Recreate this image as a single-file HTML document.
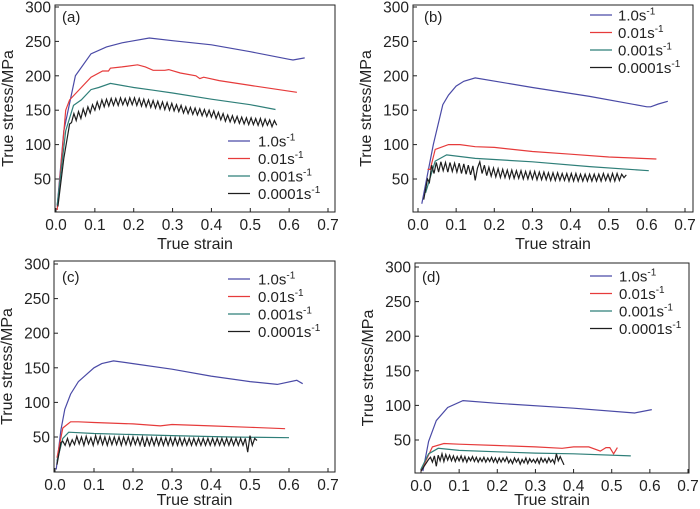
<!DOCTYPE html>
<html><head><meta charset="utf-8">
<style>
html,body{margin:0;padding:0;background:#fff;}
svg{display:block;font-family:"Liberation Sans",Arial,sans-serif;}
</style></head>
<body>
<svg id="chart" width="700" height="509" viewBox="0 0 700 509" xmlns="http://www.w3.org/2000/svg"></svg>
<script>
// ---- data ----
const rateLabels = ["1.0s", "0.01s", "0.001s", "0.0001s"];
const xTicks = [0.0, 0.1, 0.2, 0.3, 0.4, 0.5, 0.6, 0.7];
const yTicks = [50, 100, 150, 200, 250, 300];
const panelLabels = ["(a)", "(b)", "(c)", "(d)"];

const aBlue = [[0.003,10],[0.02,120],[0.05,200],[0.09,232],[0.13,242],[0.17,248],[0.24,255],[0.3,251],[0.4,245],[0.5,235],[0.6,224],[0.61,223],[0.64,226]];
const aRed = [[0.003,5],[0.025,150],[0.035,165],[0.06,180],[0.09,198],[0.12,207],[0.135,207],[0.14,211],[0.17,213],[0.21,216],[0.23,213],[0.25,208],[0.28,208],[0.29,209],[0.32,204],[0.36,200],[0.37,196],[0.38,198],[0.42,193],[0.5,186],[0.62,176]];
const aGreen = [[0.003,12],[0.025,120],[0.045,157],[0.065,165],[0.09,180],[0.11,183],[0.14,189],[0.2,183],[0.25,179],[0.3,175],[0.4,166],[0.5,158],[0.565,151]];
const aBlackStart = [[0.005,10],[0.02,80],[0.035,130]];
const aBlackX0 = 0.04, aBlackStep = 0.006;
const aBlackVals = [132,145,135,148,138,152,142,155,146,158,150,162,152,165,155,166,156,167,157,167,157,168,158,167,157,168,158,168,157,167,156,166,155,165,154,164,153,163,152,162,151,161,150,160,149,158,148,157,146,155,145,154,144,153,143,152,142,151,141,150,140,149,138,147,136,145,134,143,133,142,132,141,131,140,130,139,129,139,129,138,128,138,127,137,128,136,126,135,128];

const bBlue = [[0.01,14],[0.04,100],[0.065,158],[0.08,172],[0.1,185],[0.12,192],[0.15,197],[0.3,183],[0.45,170],[0.6,155],[0.61,155],[0.63,159],[0.655,163]];
const bRed = [[0.025,64],[0.032,64],[0.045,93],[0.08,100],[0.11,100],[0.15,97],[0.2,96],[0.3,90],[0.4,86],[0.5,82],[0.625,79]];
const bGreen = [[0.02,30],[0.045,76],[0.075,85],[0.15,80],[0.3,75],[0.45,68],[0.605,62]];
const bBlackStart = [[0.015,20],[0.025,50]];
const bBlackX0 = 0.03, bBlackStep = 0.006;
const bBlackVals = [45,70,58,74,60,75,62,74,60,74,61,73,60,73,58,72,57,70,56,69,48,66,75,58,70,55,67,54,66,53,65,52,64,52,63,51,63,51,62,51,62,50,61,50,61,50,61,49,60,49,60,49,59,48,59,48,59,48,58,48,58,47,58,47,58,47,57,47,57,47,57,47,57,47,57,47,58,48,57,47,58,47,58,48,57,52,56];

const cBlue = [[0.003,3],[0.015,60],[0.025,90],[0.04,112],[0.06,130],[0.08,140],[0.1,150],[0.12,156],[0.15,160],[0.2,156],[0.3,148],[0.4,138],[0.5,130],[0.57,126],[0.62,132],[0.635,127]];
const cRed = [[0.005,20],[0.02,63],[0.04,72],[0.06,72],[0.1,71],[0.2,69],[0.27,66],[0.3,68],[0.4,66],[0.5,64],[0.59,62]];
const cGreen = [[0.005,15],[0.02,48],[0.035,57],[0.1,55],[0.3,52],[0.45,50],[0.6,49]];
const cBlackStart = [[0.005,10],[0.015,42]];
const cBlackX0 = 0.02, cBlackStep = 0.006;
const cBlackVals = [44,38,48,37,46,39,51,40,50,38,51,40,49,38,52,40,51,39,50,38,50,39,50,39,50,38,50,39,50,38,50,39,49,38,50,36,49,38,49,38,49,38,49,38,49,38,49,38,49,38,49,38,48,38,48,38,48,38,48,38,48,38,48,38,48,38,48,38,48,38,48,38,48,38,48,38,48,38,48,28,52,38,48,45];

const dBlue = [[0.005,5],[0.02,48],[0.04,78],[0.07,97],[0.11,107],[0.2,103],[0.4,96],[0.56,89],[0.605,94]];
const dRed = [[0.0,5],[0.03,40],[0.06,45],[0.1,44],[0.2,42],[0.3,40],[0.37,38],[0.4,40],[0.44,40],[0.47,34],[0.485,39],[0.495,39],[0.505,30],[0.515,39]];
const dGreen = [[0.0,8],[0.02,30],[0.045,38],[0.1,35],[0.2,33],[0.3,31],[0.4,30],[0.55,27]];
const dBlackStart = [[0.0,5],[0.02,22]];
const dBlackX0 = 0.025, dBlackStep = 0.005;
const dBlackVals = [25,18,27,12,28,20,30,19,29,21,28,20,27,19,26,20,27,19,26,18,25,20,26,19,25,18,24,19,25,18,24,19,25,18,24,17,24,18,24,19,25,17,22,16,24,18,23,15,22,17,24,16,23,18,22,17,23,16,24,18,23,17,24,18,22,16,30,20,26,20,14];

// ---- layout ----
const colors = ["#4a4aa6", "#e63b3b", "#2f7f79", "#1e1e1e"];
const panels = [
  {x0:56, x7:328, y300:7, y50:179, box:[55,5,335,212], leg:[228,141,258], lab:[62,22], xt:37},
  {x0:418, x7:685, y300:7, y50:179, box:[413,5,693,212], leg:[590,15,618], lab:[424,22], xt:37},
  {x0:55, x7:328, y300:264, y50:437, box:[54,261,335,472], leg:[228,279,258], lab:[62,282], xt:33},
  {x0:421, x7:688, y300:267, y50:440, box:[415,263,689,473], leg:[590,276,619], lab:[422,282], xt:32}
];
const seriesSets = [
  [aBlue,aRed,aGreen,[aBlackStart,aBlackX0,aBlackStep,aBlackVals]],
  [bBlue,bRed,bGreen,[bBlackStart,bBlackX0,bBlackStep,bBlackVals]],
  [cBlue,cRed,cGreen,[cBlackStart,cBlackX0,cBlackStep,cBlackVals]],
  [dBlue,dRed,dGreen,[dBlackStart,dBlackX0,dBlackStep,dBlackVals]]
];
const NS = "http://www.w3.org/2000/svg";
const svg = document.getElementById("chart");
function mk(tag, attrs, parent){ const e=document.createElementNS(NS,tag); for(const k in attrs) e.setAttribute(k,attrs[k]); (parent||svg).appendChild(e); return e; }

panels.forEach((p, i) => {
  const g = mk("g", {});
  
  
  const xs = v => p.x0 + v/0.7*(p.x7-p.x0);
  const ys = v => p.y50 + (v-50)/250*(p.y300-p.y50);
  const [L,T,R,B] = p.box;
  const box = mk("rect", {x:L, y:T, width:R-L, height:B-T, fill:"none", stroke:"#222", "stroke-width":1}, g);
  
  
  xTicks.forEach(t => {
    const x = xs(t);
    const tk = mk("line", {x1:x, y1:B, x2:x, y2:B-4, stroke:"#222"}, g);
    
    
    const tx = mk("text", {x:x, y:B+18, "text-anchor":"middle", "font-size":15.5, fill:"#222"}, g);
    tx.textContent = t.toFixed(1);
    
    
  });
  yTicks.forEach(t => {
    const y = ys(t);
    const tk = mk("line", {x1:L, y1:y, x2:L+4, y2:y, stroke:"#222"}, g);
    
    
    const tx = mk("text", {x:L-4, y:y+5.5, "text-anchor":"end", "font-size":15.5, fill:"#222"}, g);
    tx.textContent = t;
    
    
  });
  const xt = mk("text", {x:(L+R)/2, y:B+p.xt, "text-anchor":"middle", "font-size":16, fill:"#222"}, g);
  xt.textContent = "True strain";
  
  
  const ycx = L-42, ycy = (T+B)/2;
  const yt = mk("text", {x:ycx, y:ycy, "text-anchor":"middle", "font-size":16, fill:"#222", transform:`rotate(-90 ${ycx} ${ycy})`}, g);
  yt.textContent = "True stress/MPa";
  
  
  const pl = mk("text", {x:p.lab[0], y:p.lab[1], "font-size":15, fill:"#222"}, g);
  pl.textContent = panelLabels[i];
  
  

  seriesSets[i].forEach((s, k) => {
    let pts;
    if (k === 3) {
      const [start, x0, step, vals] = s;
      pts = start.concat(vals.map((v, j) => [x0 + j*step, v]));
    } else pts = s;
    const d = pts.map((q, j) => (j?"L":"M") + xs(q[0]).toFixed(1) + "," + ys(q[1]).toFixed(1)).join("");
    const path = mk("path", {d:d, fill:"none", stroke:colors[k], "stroke-width":1.2, "stroke-linejoin":"miter"}, g);
    
    
  });

  const [lx, ly0, tx0] = p.leg;
  rateLabels.forEach((lab, k) => {
    const y = ly0 + k*17.5;
    const ll = mk("line", {x1:lx, y1:y, x2:lx+22, y2:y, stroke:colors[k], "stroke-width":1.3}, g);
    
    
    const lt = mk("text", {x:tx0, y:y+5.5, "font-size":15, fill:"#222"}, g);
    
    
    lt.textContent = lab;
    const sup = mk("tspan", {"font-size":10, dy:-6}, lt);
    sup.textContent = "-1";
  });
});
</script>
</body></html>
